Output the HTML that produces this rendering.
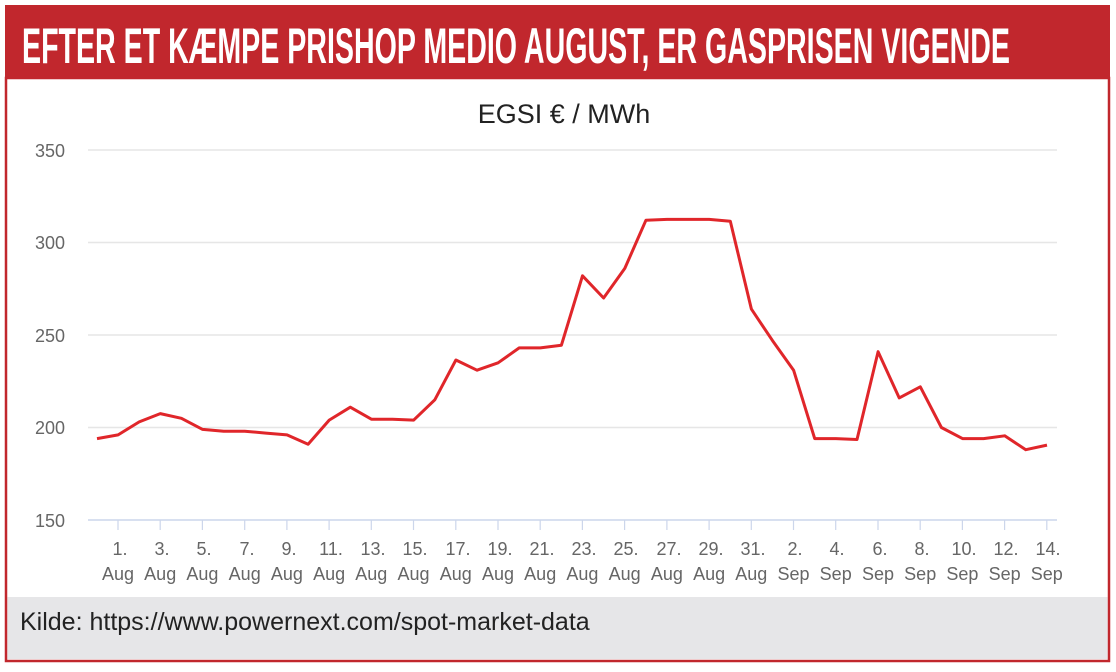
<!DOCTYPE html>
<html><head><meta charset="utf-8"><style>
html,body{margin:0;padding:0;background:#fff;}
svg{display:block;}
</style></head><body>
<svg width="1116" height="672" viewBox="0 0 1116 672" xmlns="http://www.w3.org/2000/svg">
<rect x="0" y="0" width="1116" height="672" fill="#fff"/>
<rect x="6" y="78" width="1103" height="583" fill="#fff" stroke="#c1272d" stroke-width="2.5"/>
<rect x="5" y="5" width="1105" height="73" fill="#c1272d"/>
<text x="22" y="63" fill="#fff" font-family="Liberation Sans Narrow, Liberation Sans, sans-serif" font-weight="bold" font-size="50" textLength="988" lengthAdjust="spacingAndGlyphs">EFTER ET KÆMPE PRISHOP MEDIO AUGUST, ER GASPRISEN VIGENDE</text>
<rect x="7.5" y="597" width="1100" height="62" fill="#e6e6e8"/>
<text x="20" y="630" fill="#222" font-family="Liberation Sans, sans-serif" font-size="25">Kilde: https://www.powernext.com/spot-market-data</text>
<text x="564" y="123" text-anchor="middle" fill="#222" font-family="Liberation Sans, sans-serif" font-size="27">EGSI € / MWh</text>
<g stroke="#e6e6e6" stroke-width="1.5">
<line x1="88" y1="150" x2="1057" y2="150"/>
<line x1="88" y1="242.5" x2="1057" y2="242.5"/>
<line x1="88" y1="335" x2="1057" y2="335"/>
<line x1="88" y1="427.5" x2="1057" y2="427.5"/>
</g>
<line x1="88" y1="520" x2="1057" y2="520" stroke="#ccd6eb" stroke-width="1.5"/>
<g font-family="Liberation Sans, sans-serif" font-size="18" fill="#666" text-anchor="end">
<text x="65" y="157">350</text><text x="65" y="249">300</text><text x="65" y="342">250</text><text x="65" y="434">200</text><text x="65" y="527">150</text>
</g>
<g stroke="#ccd6eb" stroke-width="1.2">
<path d="M118 520V530M160.2 520V530M202.4 520V530M244.7 520V530M286.9 520V530M329.1 520V530M371.3 520V530M413.5 520V530M455.8 520V530M498 520V530M540.2 520V530M582.4 520V530M624.6 520V530M666.9 520V530M709.1 520V530M751.3 520V530M793.5 520V530M835.7 520V530M878 520V530M920.2 520V530M962.4 520V530M1004.6 520V530M1046.8 520V530"/>
</g>
<g font-family="Liberation Sans, sans-serif" font-size="18" fill="#666" text-anchor="middle">
<text x="120" y="555">1.</text><text x="118" y="580">Aug</text>
<text x="162" y="555">3.</text><text x="160.2" y="580">Aug</text>
<text x="204" y="555">5.</text><text x="202.4" y="580">Aug</text>
<text x="247" y="555">7.</text><text x="244.7" y="580">Aug</text>
<text x="289" y="555">9.</text><text x="286.9" y="580">Aug</text>
<text x="331" y="555">11.</text><text x="329.1" y="580">Aug</text>
<text x="373" y="555">13.</text><text x="371.3" y="580">Aug</text>
<text x="415" y="555">15.</text><text x="413.5" y="580">Aug</text>
<text x="458" y="555">17.</text><text x="455.8" y="580">Aug</text>
<text x="500" y="555">19.</text><text x="498" y="580">Aug</text>
<text x="542" y="555">21.</text><text x="540.2" y="580">Aug</text>
<text x="584" y="555">23.</text><text x="582.4" y="580">Aug</text>
<text x="626" y="555">25.</text><text x="624.6" y="580">Aug</text>
<text x="669" y="555">27.</text><text x="666.9" y="580">Aug</text>
<text x="711" y="555">29.</text><text x="709.1" y="580">Aug</text>
<text x="753" y="555">31.</text><text x="751.3" y="580">Aug</text>
<text x="795" y="555">2.</text><text x="793.5" y="580">Sep</text>
<text x="837" y="555">4.</text><text x="835.7" y="580">Sep</text>
<text x="880" y="555">6.</text><text x="878" y="580">Sep</text>
<text x="922" y="555">8.</text><text x="920.2" y="580">Sep</text>
<text x="964" y="555">10.</text><text x="962.4" y="580">Sep</text>
<text x="1006" y="555">12.</text><text x="1004.6" y="580">Sep</text>
<text x="1048" y="555">14.</text><text x="1046.8" y="580">Sep</text>
</g>
<polyline fill="none" stroke="#e0262a" stroke-width="3" stroke-linejoin="round" points="97,438.6 118.1,434.9 139.2,421.9 160.3,413.6 181.4,418.3 202.6,429.4 223.7,431.2 244.8,431.2 265.9,433.1 287,434.9 308.1,444.2 329.2,420.1 350.3,407.2 371.4,419.2 392.5,419.2 413.7,420.1 434.8,399.8 455.9,360 477,370.2 498.1,362.8 519.2,347.9 540.3,347.9 561.4,345.2 582.5,275.8 603.6,298 624.8,268.4 645.9,220.3 667,219.4 688.1,219.4 709.2,219.4 730.3,221.2 751.4,309.1 772.5,340.6 793.6,370.2 814.7,438.6 835.9,438.6 857,439.5 878.1,351.7 899.2,397.9 920.3,386.8 941.4,427.5 962.5,438.6 983.6,438.6 1004.7,435.8 1025.8,449.7 1047,445.1"/>
</svg>
</body></html>
